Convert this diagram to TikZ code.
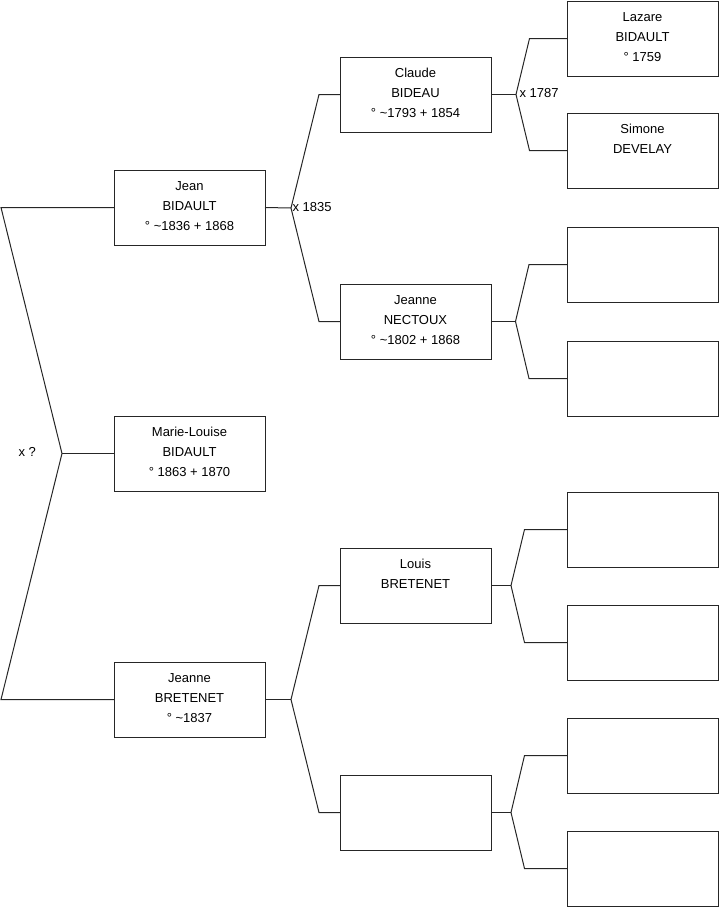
\documentclass[tikz,border=0pt]{standalone}
\usepackage{fontspec}
\setmainfont{Liberation Sans}
\begin{document}
\begin{tikzpicture}[x=1pt,y=-1pt,line width=1pt,
  person/.style={draw=black!85,fill=white,minimum width=151pt,minimum height=75pt,anchor=north west,inner sep=0pt,outer sep=0pt},
  lbl/.style={align=center,anchor=north,inner sep=0pt,font=\fontsize{13}{20}\selectfont},
  link/.style={draw=black!85,line width=1pt},
  mlabel/.style={anchor=west,inner sep=0pt,font=\fontsize{13}{15}\selectfont}]
\useasboundingbox (0,0) rectangle (719,908);
% generation 1
\node[person] (jean) at (114,170) {};
\node[person] (marie) at (114,416) {};
\node[person] (jeanneb) at (114,662) {};
% generation 2
\node[person] (claude) at (340,57) {};
\node[person] (nectoux) at (340,284) {};
\node[person] (louis) at (340,548) {};
\node[person] (unkA) at (340,775) {};
% generation 3
\node[person] (lazare) at (567,1) {};
\node[person] (simone) at (567,113) {};
\node[person] (e1) at (567,227) {};
\node[person] (e2) at (567,341) {};
\node[person] (e3) at (567,492) {};
\node[person] (e4) at (567,605) {};
\node[person] (e5) at (567,718) {};
\node[person] (e6) at (567,831) {};
% labels
\node[lbl] at ([yshift=-11pt]jean.north) {Jean\\BIDAULT\\° \textasciitilde1836 + 1868};
\node[lbl] at ([yshift=-11pt]marie.north) {Marie-Louise\\BIDAULT\\° 1863 + 1870};
\node[lbl] at ([yshift=-11pt]jeanneb.north) {Jeanne\\BRETENET\\° \textasciitilde1837};
\node[lbl] at ([yshift=-11pt]claude.north) {Claude\\BIDEAU\\° \textasciitilde1793 + 1854};
\node[lbl] at ([yshift=-11pt]nectoux.north) {Jeanne\\NECTOUX\\° \textasciitilde1802 + 1868};
\node[lbl] at ([yshift=-11pt]louis.north) {Louis\\BRETENET};
\node[lbl] at ([yshift=-11pt]lazare.north) {Lazare\\BIDAULT\\° 1759};
\node[lbl] at ([yshift=-11pt]simone.north) {Simone\\DEVELAY};
% forks
\coordinate (f0) at (62,453.5);
\coordinate (f1) at (291,208);
\coordinate (f2) at (516,94.5);
\coordinate (f3) at (515.5,321.5);
\coordinate (f4) at (291,699.5);
\coordinate (f5) at (511,585.5);
\coordinate (f6) at (511,812.5);
% root
\draw[link] (jean.west) -- (1,0 |- jean.west) -- (f0) -- (1,0 |- jeanneb.west) -- (jeanneb.west);
\draw[link] (f0) -- (marie.west);
% Jean
\draw[link] (jean.east) -- (f1);
\draw[link] (claude.west) -- (319,0 |- claude.west) -- (f1) -- (319,0 |- nectoux.west) -- (nectoux.west);
% Claude
\draw[link] (claude.east) -- (f2);
\draw[link] (lazare.west) -- (529.5,0 |- lazare.west) -- (f2) -- (529.5,0 |- simone.west) -- (simone.west);
% Nectoux
\draw[link] (nectoux.east) -- (f3);
\draw[link] (e1.west) -- (529,0 |- e1.west) -- (f3) -- (529,0 |- e2.west) -- (e2.west);
% Jeanne Bretenet
\draw[link] (jeanneb.east) -- (f4);
\draw[link] (louis.west) -- (319,0 |- louis.west) -- (f4) -- (319,0 |- unkA.west) -- (unkA.west);
% Louis
\draw[link] (louis.east) -- (f5);
\draw[link] (e3.west) -- (524.5,0 |- e3.west) -- (f5) -- (524.5,0 |- e4.west) -- (e4.west);
% unknown
\draw[link] (unkA.east) -- (f6);
\draw[link] (e5.west) -- (524.5,0 |- e5.west) -- (f6) -- (524.5,0 |- e6.west) -- (e6.west);
% marriages
\node[mlabel] (m0) at (18,452) {x ?};
\node[mlabel] (m1) at (292,207) {x 1835};
\node[mlabel] (m2) at (519,93) {x 1787};
\end{tikzpicture}
\end{document}
